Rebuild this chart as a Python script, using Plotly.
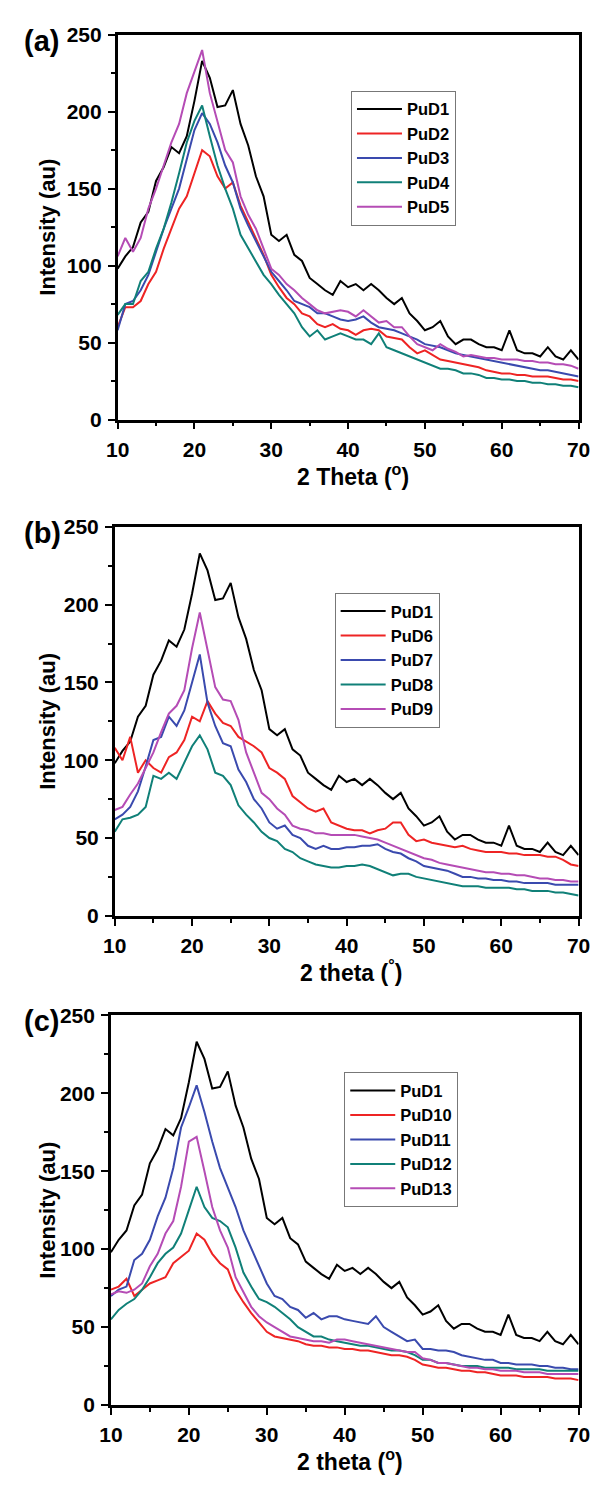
import plotly.graph_objects as go

THETA = [10, 11, 12, 13, 14, 15, 16, 17, 18, 19,
         20, 21, 22, 23, 24, 25, 26, 27, 28, 29,
         30, 31, 32, 33, 34, 35, 36, 37, 38, 39,
         40, 41, 42, 43, 44, 45, 46, 47, 48, 49,
         50, 51, 52, 53, 54, 55, 56, 57, 58, 59,
         60, 61, 62, 63, 64, 65, 66, 67, 68, 69,
         70]

PuD1 = [98, 106, 112, 128, 135, 155, 164, 177, 173, 184,
        207, 233, 222, 203, 204, 214, 192, 178, 158, 145,
        120, 116, 120, 107, 103, 92, 88, 84, 81, 90,
        86, 88, 84, 88, 84, 79, 75, 79, 69, 64,
        58, 60, 64, 54, 49, 52, 52, 49, 47, 47,
        45, 58, 45, 43, 43, 41, 47, 41, 39, 45,
        39]
PuD2 = [60, 73, 73, 77, 88, 96, 111, 124, 137, 145,
        160, 175, 171, 158, 150, 154, 139, 128, 118, 107,
        94, 86, 79, 75, 69, 67, 62, 60, 62, 59,
        58, 55, 58, 59, 58, 54, 53, 52, 47, 43,
        45, 42, 39, 38, 37, 36, 35, 34, 32, 31,
        30, 30, 29, 29, 28, 28, 28, 27, 26, 26,
        25]
PuD3 = [58, 75, 77, 84, 94, 109, 124, 137, 150, 169,
        188, 199, 192, 180, 165, 154, 137, 126, 116, 107,
        96, 90, 84, 77, 75, 73, 69, 69, 67, 65,
        64, 65, 67, 63, 60, 59, 58, 56, 54, 52,
        49, 48, 47, 45, 43, 42, 41, 40, 39, 38,
        37, 36, 35, 34, 33, 32, 32, 31, 30, 29,
        28]
PuD4 = [68, 75, 75, 90, 96, 111, 124, 141, 160, 180,
        194, 204, 184, 165, 150, 137, 120, 111, 103, 94,
        88, 81, 75, 69, 60, 54, 58, 52, 54, 56,
        54, 52, 52, 49, 56, 47, 45, 43, 41, 39,
        37, 35, 33, 33, 32, 30, 30, 29, 27, 27,
        26, 26, 25, 25, 24, 24, 23, 23, 22, 22,
        21]
PuD5 = [106, 118, 109, 118, 137, 150, 165, 180, 192, 212,
        226, 240, 212, 194, 175, 167, 145, 133, 124, 111,
        98, 94, 88, 84, 79, 75, 71, 69, 70, 71,
        70, 67, 71, 67, 63, 64, 60, 60, 54, 49,
        47, 45, 49, 46, 44, 41, 42, 41, 40, 40,
        39, 39, 39, 38, 38, 37, 37, 36, 36, 35,
        33]
PuD6 = [108, 100, 115, 92, 100, 95, 92, 102, 105, 113,
        128, 125, 138, 130, 124, 122, 115, 112, 109, 105,
        95, 92, 88, 77, 73, 69, 67, 69, 60, 58,
        56, 55, 55, 53, 55, 56, 60, 60, 52, 48,
        49, 47, 46, 45, 44, 45, 43, 42, 41, 41,
        41, 40, 40, 39, 39, 39, 38, 38, 36, 33,
        32]
PuD7 = [62, 65, 70, 80, 96, 113, 115, 128, 122, 132,
        150, 168, 137, 122, 111, 109, 94, 86, 75, 69,
        60, 56, 58, 52, 50, 45, 43, 45, 43, 43,
        44, 44, 45, 45, 46, 43, 41, 40, 37, 35,
        32, 31, 30, 29, 27, 25, 25, 24, 24, 23,
        23, 22, 22, 21, 21, 21, 21, 20, 20, 20,
        20]
PuD8 = [54, 62, 63, 65, 70, 90, 88, 92, 88, 98,
        109, 116, 107, 92, 90, 84, 71, 65, 60, 54,
        50, 48, 43, 41, 37, 35, 33, 32, 31, 31,
        32, 32, 33, 32, 30, 28, 26, 27, 27, 25,
        24, 23, 22, 21, 20, 19, 19, 19, 18, 18,
        18, 18, 17, 17, 16, 16, 16, 15, 15, 14,
        13]
PuD9 = [68, 70, 78, 85, 95, 105, 118, 130, 135, 145,
        172, 195, 171, 147, 139, 138, 126, 105, 92, 79,
        75, 69, 65, 58, 56, 55, 53, 53, 52, 52,
        52, 52, 51, 50, 49, 47, 45, 43, 41, 39,
        37, 36, 34, 33, 32, 31, 30, 29, 28, 28,
        27, 27, 26, 26, 25, 24, 24, 23, 23, 22,
        22]
PuD10 = [74, 76, 81, 70, 74, 78, 80, 82, 91, 95,
         99, 110, 106, 97, 91, 87, 74, 66, 59, 53,
         47, 44, 43, 42, 41, 39, 38, 38, 37, 37,
         36, 36, 35, 35, 34, 33, 32, 32, 31, 29,
         26, 25, 24, 24, 23, 22, 22, 21, 21, 20,
         19, 19, 19, 18, 18, 18, 18, 17, 17, 17,
         16]
PuD11 = [70, 74, 76, 93, 97, 106, 121, 133, 152, 178,
         191, 205, 188, 169, 152, 140, 127, 112, 101, 89,
         78, 70, 68, 63, 61, 56, 59, 55, 57, 57,
         55, 54, 53, 52, 57, 50, 47, 44, 41, 42,
         36, 36, 35, 35, 34, 32, 31, 30, 29, 29,
         27, 27, 26, 26, 26, 25, 25, 24, 24, 23,
         23]
PuD12 = [55, 61, 65, 68, 74, 82, 91, 97, 101, 110,
         125, 140, 127, 120, 118, 114, 101, 85, 76, 68,
         66, 63, 59, 55, 50, 47, 44, 44, 42, 41,
         40, 39, 38, 38, 37, 36, 35, 35, 34, 32,
         29, 29, 27, 27, 26, 25, 25, 25, 24, 24,
         24, 24, 23, 23, 23, 23, 22, 22, 22, 22,
         22]
PuD13 = [71, 73, 72, 74, 78, 89, 97, 110, 118, 140,
         169, 172, 150, 127, 112, 101, 82, 72, 63, 57,
         53, 50, 47, 44, 43, 42, 41, 41, 40, 42,
         42, 41, 40, 39, 38, 37, 36, 35, 34, 34,
         30, 29, 27, 27, 26, 25, 24, 24, 23, 23,
         22, 22, 22, 21, 21, 21, 20, 20, 20, 20,
         20]

PANELS = [
    [("PuD1", PuD1), ("PuD2", PuD2), ("PuD3", PuD3), ("PuD4", PuD4), ("PuD5", PuD5)],
    [("PuD1", PuD1), ("PuD6", PuD6), ("PuD7", PuD7), ("PuD8", PuD8), ("PuD9", PuD9)],
    [("PuD1", PuD1), ("PuD10", PuD10), ("PuD11", PuD11), ("PuD12", PuD12), ("PuD13", PuD13)],
]
PANEL_LABELS = ["(a)", "(b)", "(c)"]
X_TITLES = ["2 Theta (<sup>o</sup>)", "2 theta (<sup>°</sup>)", "2 theta (<sup>o</sup>)"]
Y_TITLE = "Intensity (au)"
COLORS = ["#000000", "#ee2424", "#3a4aae", "#108078", "#b54cb5"]

W, H = 604, 1485
# pixel geometry of each panel: left, right, top, bottom
GEOM = [(110, 590, 23, 414), (107, 590, 523, 918), (103, 590, 1019, 1415)]
LEGEND_POS = [(353, 80), (336, 590), (346, 1077)]

FONT = "Liberation Sans, Arial, sans-serif"

fig = go.Figure()
annotations = []
for i, traces in enumerate(PANELS):
    ax = "" if i == 0 else str(i + 1)
    leg = "legend" if i == 0 else f"legend{i + 1}"
    for j, (name, vals) in enumerate(traces):
        fig.add_trace(go.Scatter(
            x=THETA, y=vals, mode="lines", name=name,
            line=dict(color=COLORS[j], width=2),
            xaxis="x" + ax, yaxis="y" + ax, legend=leg,
        ))
    l, r, t, b = GEOM[i]
    xd = [l / W, r / W]
    yd = [1 - b / H, 1 - t / H]
    common = dict(
        showline=True, linecolor="black", linewidth=2.5, mirror=True,
        ticks="outside", ticklen=7, tickwidth=2, tickcolor="black",
        showgrid=False, zeroline=False,
        tickfont=dict(family=FONT, size=21, color="black", weight="bold"),
        ticklabelstandoff=2,
    )
    fig.update_layout(**{
        "xaxis" + ax: dict(domain=xd, range=[10, 70], tick0=10, dtick=10,
                           anchor="y" + ax,
                           minor=dict(ticks="outside", ticklen=4, tickwidth=2,
                                      dtick=5, tickcolor="black", showgrid=False),
                           **common),
        "yaxis" + ax: dict(domain=yd, range=[0, 250], tick0=0, dtick=50,
                           anchor="x" + ax,
                           minor=dict(ticks="outside", ticklen=4, tickwidth=2,
                                      dtick=25, tickcolor="black", showgrid=False),
                           **common),
    })
    lx, ly = LEGEND_POS[i]
    fig.update_layout(**{
        leg: dict(x=lx / W, y=1 - ly / H, xanchor="left", yanchor="top",
                  bordercolor="#777777", borderwidth=1, bgcolor="white",
                  font=dict(family=FONT, size=16.5, color="black", weight="bold"),
                  itemwidth=45, tracegroupgap=0)
    })
    annotations.append(dict(
        text=PANEL_LABELS[i], x=11 / W, y=1 - (t + 6) / H, xref="paper", yref="paper",
        xanchor="left", yanchor="middle", showarrow=False, borderpad=0,
        font=dict(family=FONT, size=29, color="black", weight="bold")))
    annotations.append(dict(
        text=Y_TITLE, x=37 / W, y=1 - ((t + b) / 2) / H, xref="paper", yref="paper",
        xanchor="center", yanchor="middle", textangle=-90, showarrow=False,
        font=dict(family=FONT, size=22, color="black", weight="bold")))
    annotations.append(dict(
        text=X_TITLES[i], x=((l + r) / 2 + 5) / W, y=1 - (b + 56) / H, xref="paper", yref="paper",
        xanchor="center", yanchor="middle", showarrow=False,
        font=dict(family=FONT, size=23, color="black", weight="bold")))

fig.update_layout(
    width=W, height=H, margin=dict(l=0, r=0, t=0, b=0),
    paper_bgcolor="white", plot_bgcolor="white",
    annotations=annotations, showlegend=True,
)
fig.write_html(
    "out.html",
    config={"displayModeBar": False},
    post_script="document.body.style.margin='0px';document.body.style.overflow='hidden';",
)
